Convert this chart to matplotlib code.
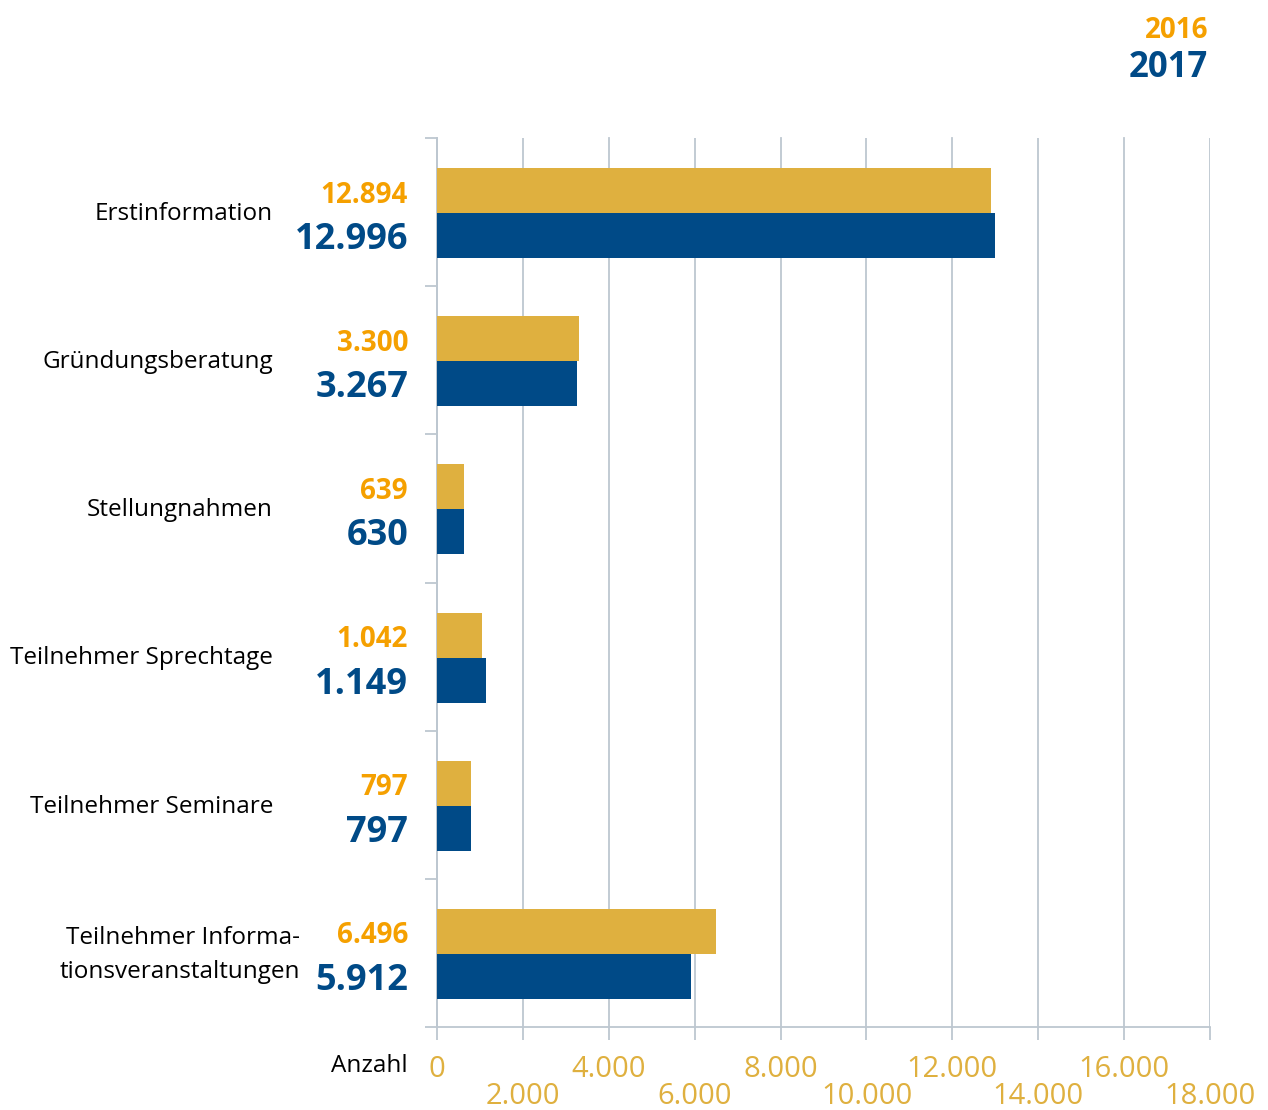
import numpy as np
import matplotlib.pyplot as plt
from matplotlib.ticker import FixedLocator, FixedFormatter
import matplotlib.transforms as mtrans

plt.rcParams["font.family"] = ["Open Sans", "DejaVu Sans"]

# ---- data ----
CATEGORIES = ["Erstinformation", "Gründungsberatung", "Stellungnahmen",
              "Teilnehmer Sprechtage", "Teilnehmer Seminare",
              "Teilnehmer Informa-\ntionsveranstaltungen"]
VALUES_2016 = [12894, 3300, 639, 1042, 797, 6496]
VALUES_2017 = [12996, 3267, 630, 1149, 797, 5912]
YEARS = ["2016", "2017"]
MAJOR_TICKS = [0, 4000, 8000, 12000, 16000]
MINOR_TICKS = [2000, 6000, 10000, 14000, 18000]

GOLD = "#DFB03F"
ORANGE = "#F5A000"
BLUE = "#004A87"
GRID = "#BDC7D0"


def de(n):
    return f"{n:,}".replace(",", ".")


fig = plt.figure(figsize=(12.68, 11.10), dpi=100)
ax = fig.add_axes([437 / 1268, 83 / 1110, 773 / 1268, 889 / 1110])

y = np.arange(len(CATEGORIES)) + 0.507
h = 0.304
ax.barh(y - h / 2, VALUES_2016, height=h, color=GOLD, zorder=3)
ax.barh(y + h / 2, VALUES_2017, height=h, color=BLUE, zorder=3)

ax.set_xlim(0, 18000)
ax.set_ylim(len(CATEGORIES), 0)

# x axis: two staggered rows of tick labels
ax.xaxis.set_major_locator(FixedLocator(MAJOR_TICKS))
ax.xaxis.set_major_formatter(FixedFormatter([de(v) for v in MAJOR_TICKS]))
ax.xaxis.set_minor_locator(FixedLocator(MINOR_TICKS))
ax.xaxis.set_minor_formatter(FixedFormatter([de(v) for v in MINOR_TICKS]))
ax.tick_params(axis="x", which="major", length=9.4, width=1.3, color=GRID,
               labelsize=21, labelcolor=GOLD, pad=10.5)
ax.tick_params(axis="x", which="minor", length=9.4, width=1.3, color=GRID,
               labelsize=21, labelcolor=GOLD, pad=30)
ax.grid(axis="x", which="both", color=GRID, lw=1.3, zorder=0)
for line in ax.xaxis.get_gridlines():
    line.set_clip_on(False)

# y axis: ticks at category boundaries only
ax.set_yticks(np.arange(len(CATEGORIES) + 1))
ax.set_yticklabels([])
ax.tick_params(axis="y", length=8.8, width=1.3, color=GRID)

for s in ["top", "right"]:
    ax.spines[s].set_visible(False)
for s in ["left", "bottom"]:
    ax.spines[s].set_color(GRID)
    ax.spines[s].set_linewidth(1.3)

tr = mtrans.blended_transform_factory(ax.transAxes, ax.transData)
nudge = 0.03
for i, cat in enumerate(CATEGORIES):
    xpos = -0.177 if "\n" in cat else -0.212
    ax.text(xpos, y[i] + 0.005, cat, transform=tr, ha="right", va="center",
            fontsize=17.5, color="black", linespacing=1.55)
    ax.text(-0.0375, y[i] - h / 2 + nudge, de(VALUES_2016[i]), transform=tr,
            ha="right", va="center", fontsize=20, fontweight="bold", color=ORANGE)
    ax.text(-0.0375, y[i] + h / 2 + nudge, de(VALUES_2017[i]), transform=tr,
            ha="right", va="center", fontsize=26, fontweight="bold", color=BLUE)

fig.text(408 / 1268, 1 - 1066 / 1110, "Anzahl", ha="right", va="center",
         fontsize=17.5, color="black")

# year legend, top right
fig.text(1208 / 1268, 1 - 30 / 1110, YEARS[0], ha="right", va="center",
         fontsize=20, fontweight="bold", color=ORANGE)
fig.text(1208 / 1268, 1 - 68 / 1110, YEARS[1], ha="right", va="center",
         fontsize=25, fontweight="bold", color=BLUE)

fig.savefig("out.png", dpi=100)
